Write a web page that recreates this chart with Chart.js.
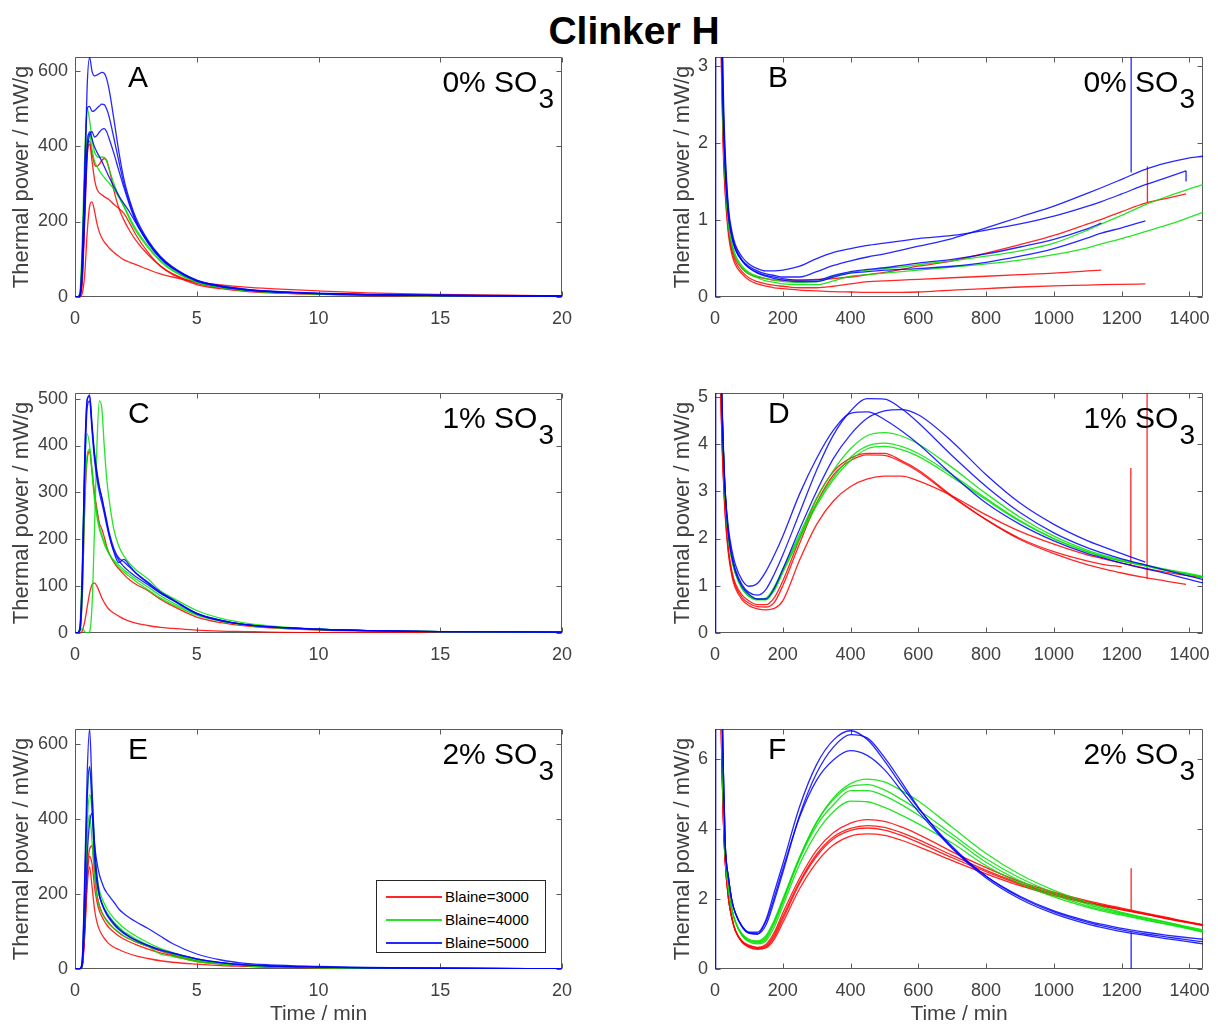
<!DOCTYPE html>
<html>
<head>
<meta charset="utf-8">
<script src="https://cdn.jsdelivr.net/npm/chart.js@4.4.1/dist/chart.umd.min.js"></script>
<style>
  body { margin: 0; width: 1218px; height: 1025px; overflow: hidden; background: #fff; position: relative;
         font-family: "Liberation Sans", Arial, sans-serif; }
  canvas { position: absolute; }
  .title { position: absolute; left: 434px; width: 400px; top: 11px; text-align: center;
           font-weight: bold; font-size: 39px; line-height: 39px; color: #000; }
  .letter { position: absolute; font-size: 30px; line-height: 30px; color: #000; }
  .so3 { position: absolute; font-size: 30px; line-height: 30px; color: #000; text-align: right; white-space: nowrap; }
  .so3 span { position: relative; top: 16px; font-size: 28px; margin-left: 1px; }
  .legend { position: absolute; left: 376px; top: 880px; width: 168px; height: 71px; border: 1px solid #262626;
            background: #fff; font-size: 15px; color: #000; }
  .legend .row { position: absolute; left: 0; height: 23px; width: 168px; }
  .legend .sample { position: absolute; left: 9px; width: 56px; top: 11px; height: 1.5px; }
  .legend .label { position: absolute; left: 68px; top: 3px; line-height: 17px; }
</style>
</head>
<body>
<div class="title">Clinker H</div>
<div class="legend" id="legend"></div>
<script>
// time axes (min)
const timeShort = [0, 0.1, 0.2, 0.3, 0.4, 0.5, 0.6, 0.7, 0.8, 0.9, 1.0, 1.1, 1.2, 1.3, 1.4, 1.6, 1.8, 2.0, 2.25, 2.5, 3, 3.5, 4, 5, 6, 7, 8, 10, 12, 15, 20];
const timeLong = [2, 5, 10, 15, 20, 25, 30, 40, 50, 60, 80, 100, 125, 150, 175, 200, 250, 300, 350, 400, 450, 500, 550, 600, 700, 800, 900, 1000, 1100, 1140, 1200, 1270, 1330, 1390, 1440];

const ticksShort = [0, 5, 10, 15, 20];
const ticksLong = [0, 200, 400, 600, 800, 1000, 1200, 1400];

// A: 0% SO3, first 20 min (mW/g)
const a_red1 = [0, 0, 2, 50, 230, 400, 413, 380, 352, 346, 352, 362, 367, 362, 340, 282, 236, 205, 175, 150, 112, 83, 62, 36, 24, 17, 12, 8, 5, 3, 2];
const a_red2 = [0, 0, 2, 40, 200, 370, 405, 360, 312, 286, 276, 271, 266, 262, 258, 245, 235, 222, 195, 165, 118, 82, 60, 33, 22, 15, 11, 7, 4, 3, 2];
const a_red3 = [0, 0, 0, 10, 60, 170, 240, 252, 228, 195, 172, 157, 146, 138, 130, 118, 108, 99, 92, 86, 73, 61, 53, 40, 32, 26, 22, 16, 11, 7, 3];
const a_green1 = [0, 0, 10, 150, 380, 500, 468, 418, 385, 373, 370, 371, 370, 360, 340, 300, 268, 243, 210, 180, 135, 98, 72, 40, 25, 18, 13, 8, 5, 3, 2];
const a_green2 = [0, 0, 8, 120, 330, 420, 432, 390, 360, 346, 335, 325, 317, 309, 302, 285, 264, 240, 205, 175, 130, 95, 70, 39, 25, 17, 12, 8, 5, 3, 2];
const a_blue1 = [0, 0, 5, 110, 330, 560, 635, 598, 586, 588, 592, 595, 593, 578, 550, 470, 385, 315, 255, 210, 150, 108, 80, 45, 30, 21, 16, 10, 7, 5, 3];
const a_blue2 = [0, 0, 5, 100, 320, 500, 505, 492, 494, 500, 506, 511, 510, 498, 478, 420, 360, 302, 248, 203, 147, 106, 79, 44, 29, 20, 15, 9, 6, 4, 2];
const a_blue3 = [0, 0, 3, 60, 220, 380, 430, 438, 424, 428, 437, 444, 446, 438, 420, 380, 335, 292, 242, 200, 145, 104, 77, 43, 28, 19, 14, 9, 6, 4, 2];
const a_blue4 = [0, 0, 3, 70, 240, 400, 438, 418, 398, 384, 372, 360, 346, 332, 318, 292, 268, 248, 224, 196, 143, 103, 76, 42, 27, 19, 14, 9, 6, 4, 2];

// C: 1% SO3, first 20 min
const c_red1 = [0, 0, 5, 80, 270, 370, 387, 345, 300, 265, 235, 222, 205, 185, 170, 150, 137, 125, 113, 104, 90, 72, 58, 34, 22, 15, 11, 6, 4, 2, 1];
const c_red2 = [0, 0, 0, 5, 25, 55, 85, 103, 107, 100, 88, 75, 65, 57, 50, 42, 36, 30, 25, 21, 16, 12, 10, 6, 4, 3, 2, 1, 1, 0.5, 0.3];
const c_green1 = [0, 0, 5, 10, 3, 0, 3, 60, 220, 400, 495, 480, 400, 330, 285, 220, 185, 165, 148, 135, 115, 90, 75, 48, 31, 21, 15, 8, 5, 3, 2];
const c_green2 = [0, 0, 15, 150, 350, 425, 400, 340, 285, 248, 222, 205, 190, 178, 168, 155, 145, 135, 125, 115, 98, 80, 65, 40, 26, 18, 13, 8, 5, 3, 2];
const c_green3 = [0, 0, 5, 80, 280, 380, 392, 350, 295, 255, 228, 210, 195, 182, 170, 152, 140, 130, 120, 110, 92, 75, 61, 38, 25, 17, 12, 7, 5, 3, 2];
const c_blue1 = [0, 0, 10, 130, 380, 500, 505, 440, 380, 340, 310, 290, 265, 240, 215, 180, 160, 152, 140, 128, 108, 88, 72, 42, 27, 18, 13, 8, 5, 3, 2];
const c_blue2 = [0, 0, 8, 120, 370, 495, 508, 445, 385, 345, 312, 288, 262, 236, 210, 172, 150, 157, 143, 128, 106, 86, 71, 42, 27, 18, 13, 8, 5, 3, 2];
const c_blue3 = [0, 0, 5, 100, 340, 480, 495, 430, 370, 330, 300, 278, 255, 230, 208, 175, 155, 142, 130, 120, 103, 85, 70, 41, 26, 18, 13, 8, 5, 3, 2];

// E: 2% SO3, first 20 min
const e_red1 = [0, 0, 0, 10, 110, 260, 320, 328, 260, 200, 170, 152, 140, 130, 122, 108, 97, 88, 80, 72, 60, 48, 38, 22, 14, 9, 6, 4, 2, 1, 1];
const e_red2 = [0, 0, 0, 10, 100, 240, 300, 280, 220, 180, 155, 140, 128, 118, 110, 98, 88, 80, 72, 65, 53, 43, 35, 20, 13, 8, 6, 3, 2, 1, 1];
const e_red3 = [0, 0, 0, 8, 90, 220, 272, 220, 160, 125, 105, 92, 82, 74, 67, 58, 52, 46, 40, 35, 28, 22, 18, 13, 9, 7, 5, 4, 2, 1, 1];
const e_green1 = [0, 0, 0, 20, 200, 440, 535, 470, 330, 250, 210, 190, 175, 162, 152, 135, 122, 110, 98, 88, 70, 55, 44, 25, 16, 10, 7, 4, 3, 2, 1];
const e_green2 = [0, 0, 0, 15, 160, 350, 410, 340, 250, 195, 165, 150, 138, 128, 120, 108, 98, 88, 80, 72, 60, 40, 34, 20, 13, 9, 6, 4, 2, 1, 1];
const e_green3 = [0, 0, 0, 15, 170, 380, 465, 420, 300, 230, 195, 178, 163, 152, 142, 125, 112, 100, 90, 80, 64, 50, 40, 24, 15, 10, 7, 4, 3, 2, 1];
const e_blue1 = [0, 0, 0, 30, 250, 520, 640, 480, 340, 285, 252, 232, 215, 204, 195, 178, 160, 148, 136, 126, 108, 88, 68, 40, 24, 15, 11, 7, 4, 2, 1];
const e_blue2 = [0, 0, 0, 25, 220, 460, 540, 430, 300, 230, 195, 175, 160, 148, 138, 122, 108, 97, 86, 77, 62, 50, 42, 27, 17, 11, 8, 5, 3, 2, 1];
const e_blue3 = [0, 0, 0, 10, 120, 300, 390, 415, 330, 250, 200, 175, 158, 145, 135, 118, 105, 95, 85, 76, 63, 52, 43, 27, 17, 11, 8, 5, 3, 2, 1];

// B: 0% SO3, full run (null = run ended)
const b_red1 = [30, 15, 7, 4.5, 3.0, 2.0, 1.5, 0.9, 0.65, 0.5, 0.37, 0.3, 0.26, 0.24, 0.22, 0.22, 0.22, 0.23, 0.24, 0.26, 0.29, 0.32, 0.36, 0.4, 0.47, 0.57, 0.68, 0.8, 0.95, 1.01, 1.11, 1.22, 1.28, 1.34, null];
const b_red2 = [28, 14, 6.5, 4.2, 2.8, 1.9, 1.4, 0.85, 0.6, 0.46, 0.33, 0.25, 0.2, 0.17, 0.15, 0.14, 0.12, 0.12, 0.14, 0.17, 0.2, 0.21, 0.22, 0.23, 0.25, 0.27, 0.29, 0.31, 0.34, 0.35, null, null, null, null, null];
const b_red3 = [25, 13, 6, 4, 2.7, 1.8, 1.35, 0.8, 0.55, 0.42, 0.3, 0.22, 0.17, 0.14, 0.12, 0.11, 0.09, 0.08, 0.07, 0.065, 0.06, 0.06, 0.06, 0.065, 0.09, 0.11, 0.13, 0.145, 0.155, 0.16, 0.165, 0.17, null, null, null];
const b_green1 = [32, 16, 7.5, 4.8, 3.1, 2.1, 1.6, 0.95, 0.7, 0.55, 0.4, 0.32, 0.27, 0.24, 0.22, 0.2, 0.19, 0.2, 0.27, 0.32, 0.35, 0.37, 0.39, 0.42, 0.47, 0.53, 0.6, 0.7, 0.87, 0.95, 1.06, 1.2, 1.3, 1.39, 1.46];
const b_green2 = [32, 16, 7.5, 4.8, 3.1, 2.1, 1.55, 0.92, 0.67, 0.52, 0.38, 0.3, 0.25, 0.21, 0.19, 0.17, 0.16, 0.16, 0.21, 0.27, 0.29, 0.31, 0.33, 0.35, 0.39, 0.43, 0.48, 0.55, 0.64, 0.69, 0.76, 0.85, 0.93, 1.02, 1.1];
const b_blue1 = [40, 20, 9, 5.5, 3.5, 2.4, 1.8, 1.1, 0.8, 0.65, 0.48, 0.4, 0.34, 0.3, 0.28, 0.26, 0.26, 0.33, 0.41, 0.47, 0.52, 0.56, 0.61, 0.66, 0.76, 0.9, 1.04, 1.18, 1.35, 1.42, 1.53, 1.66, 1.74, 1.8, 1.83];
const b_blue2 = [0, 30, 10, 6, 3.8, 2.6, 1.9, 1.15, 0.85, 0.68, 0.52, 0.43, 0.37, 0.34, 0.34, 0.35, 0.4, 0.5, 0.58, 0.63, 0.67, 0.7, 0.73, 0.76, 0.8, 0.87, 0.95, 1.05, 1.18, 1.24, 1.34, 1.46, 1.55, 1.64, null];
const b_blue3 = [35, 18, 8.5, 5.2, 3.3, 2.3, 1.7, 1.05, 0.78, 0.62, 0.47, 0.38, 0.31, 0.27, 0.24, 0.22, 0.2, 0.2, 0.26, 0.31, 0.33, 0.35, 0.36, 0.37, 0.4, 0.45, 0.53, 0.63, 0.77, 0.83, 0.9, 0.99, null, null, null];
const b_blue4 = [35, 18, 8.5, 5.2, 3.3, 2.3, 1.7, 1.05, 0.78, 0.62, 0.47, 0.38, 0.32, 0.28, 0.26, 0.24, 0.22, 0.22, 0.28, 0.33, 0.36, 0.38, 0.41, 0.44, 0.49, 0.56, 0.65, 0.75, 0.89, 0.96, null, null, null, null, null];

// D: 1% SO3, full run
const d_red1 = [50, 25, 10, 6, 4.3, 3.3, 2.6, 1.75, 1.3, 1.05, 0.8, 0.68, 0.6, 0.6, 0.75, 1.1, 2.0, 2.85, 3.42, 3.7, 3.8, 3.8, 3.65, 3.45, 2.9, 2.4, 1.98, 1.68, 1.44, 1.37, 1.27, 1.17, 1.1, 1.03, null];
const d_red2 = [50, 25, 10, 6, 4.2, 3.2, 2.5, 1.65, 1.2, 0.95, 0.7, 0.58, 0.51, 0.49, 0.52, 0.68, 1.55, 2.3, 2.8, 3.1, 3.26, 3.32, 3.32, 3.22, 2.9, 2.5, 2.15, 1.88, 1.65, 1.58, 1.48, 1.37, 1.29, 1.22, 1.17];
const d_red3 = [50, 25, 10, 6, 4.3, 3.3, 2.55, 1.7, 1.25, 1.0, 0.75, 0.63, 0.56, 0.55, 0.65, 1.0, 1.9, 2.75, 3.35, 3.65, 3.77, 3.76, 3.62, 3.42, 2.88, 2.4, 2.0, 1.72, 1.52, 1.46, 1.4, null, null, null, null];
const d_green1 = [60, 30, 12, 7, 5, 3.8, 2.9, 2.0, 1.55, 1.27, 0.95, 0.8, 0.72, 0.74, 0.98, 1.35, 2.1, 2.85, 3.45, 3.9, 4.18, 4.24, 4.17, 4.0, 3.5, 2.95, 2.45, 2.05, 1.75, 1.66, 1.55, 1.44, 1.35, 1.27, 1.2];
const d_green2 = [60, 30, 12, 7, 5, 3.8, 2.9, 2.0, 1.55, 1.27, 0.94, 0.78, 0.7, 0.7, 0.93, 1.3, 2.05, 2.75, 3.3, 3.72, 3.96, 4.02, 3.95, 3.8, 3.35, 2.85, 2.38, 2.0, 1.72, 1.63, 1.52, 1.42, 1.33, 1.25, 1.18];
const d_green3 = [60, 30, 12, 7, 5, 3.8, 2.9, 2.0, 1.55, 1.27, 0.94, 0.78, 0.71, 0.72, 0.9, 1.28, 2.0, 2.7, 3.25, 3.65, 3.9, 3.95, 3.88, 3.74, 3.3, 2.82, 2.36, 1.99, 1.71, 1.63, 1.52, 1.42, 1.33, 1.25, 1.18];
const d_blue1 = [60, 30, 12, 7, 5, 3.8, 3.0, 2.2, 1.75, 1.45, 1.12, 0.99, 1.05, 1.3, 1.65, 2.05, 2.95, 3.7, 4.3, 4.65, 4.68, 4.52, 4.28, 4.0, 3.35, 2.75, 2.3, 1.95, 1.68, 1.6, 1.48, 1.36, 1.26, 1.15, 1.06];
const d_blue2 = [60, 30, 12, 7, 5, 3.8, 3.0, 2.1, 1.65, 1.35, 1.02, 0.86, 0.8, 0.92, 1.25, 1.65, 2.55, 3.45, 4.2, 4.7, 4.96, 4.95, 4.75, 4.45, 3.75, 3.1, 2.55, 2.12, 1.8, 1.7, 1.57, 1.44, 1.33, 1.22, 1.13];
const d_blue3 = [0, 60, 14, 7.5, 5.2, 3.9, 3.0, 2.05, 1.6, 1.3, 0.98, 0.82, 0.72, 0.72, 0.95, 1.35, 2.2, 3.0, 3.7, 4.2, 4.55, 4.7, 4.73, 4.62, 4.05, 3.35, 2.75, 2.3, 1.95, 1.84, 1.68, 1.5, null, null, null];

// F: 2% SO3, full run
const f_red1 = [50, 30, 14, 9, 6, 4.2, 3.1, 2.0, 1.45, 1.1, 0.8, 0.68, 0.62, 0.7, 1.05, 1.6, 2.6, 3.4, 3.9, 4.17, 4.27, 4.22, 4.06, 3.85, 3.35, 2.9, 2.5, 2.2, 1.95, 1.86, 1.74, 1.6, 1.48, 1.36, 1.27];
const f_red2 = [50, 30, 14, 9, 6, 4.2, 3.1, 2.0, 1.45, 1.1, 0.78, 0.66, 0.6, 0.66, 0.98, 1.5, 2.5, 3.28, 3.78, 4.02, 4.1, 4.05, 3.9, 3.7, 3.25, 2.82, 2.45, 2.16, 1.92, 1.83, 1.71, 1.58, 1.46, 1.35, 1.26];
const f_red3 = [50, 30, 14, 9, 6, 4.2, 3.1, 2.0, 1.45, 1.1, 0.77, 0.64, 0.58, 0.63, 0.92, 1.42, 2.45, 3.22, 3.72, 3.96, 4.03, 3.97, 3.82, 3.62, 3.18, 2.78, 2.42, 2.13, 1.9, 1.81, 1.7, 1.57, 1.45, 1.34, 1.25];
const f_red4 = [50, 30, 14, 9, 6, 4.2, 3.1, 2.0, 1.45, 1.1, 0.76, 0.62, 0.56, 0.6, 0.85, 1.32, 2.3, 3.05, 3.55, 3.8, 3.86, 3.82, 3.68, 3.5, 3.1, 2.72, 2.38, 2.1, 1.88, 1.8, 1.69, 1.56, 1.44, 1.33, 1.24];
const f_green1 = [60, 35, 16, 10, 7, 4.8, 3.4, 2.3, 1.7, 1.35, 1.0, 0.85, 0.8, 0.95, 1.4, 2.0, 3.2, 4.2, 4.9, 5.3, 5.43, 5.35, 5.1, 4.8, 4.05, 3.3, 2.7, 2.25, 1.9, 1.78, 1.62, 1.47, 1.35, 1.22, 1.12];
const f_green2 = [60, 35, 16, 10, 7, 4.8, 3.4, 2.3, 1.7, 1.35, 0.98, 0.82, 0.78, 0.9, 1.35, 1.95, 3.2, 4.2, 4.85, 5.22, 5.27, 5.12, 4.85, 4.55, 3.85, 3.15, 2.6, 2.18, 1.85, 1.74, 1.6, 1.45, 1.33, 1.2, 1.1];
const f_green3 = [60, 35, 16, 10, 7, 4.8, 3.4, 2.3, 1.7, 1.35, 0.96, 0.8, 0.75, 0.85, 1.3, 1.9, 3.15, 4.1, 4.7, 5.1, 5.1, 4.95, 4.7, 4.4, 3.75, 3.05, 2.52, 2.12, 1.8, 1.7, 1.57, 1.42, 1.3, 1.18, 1.07];
const f_green4 = [60, 35, 16, 10, 7, 4.8, 3.4, 2.3, 1.7, 1.35, 0.95, 0.78, 0.72, 0.8, 1.2, 1.8, 3.0, 3.9, 4.5, 4.8, 4.78, 4.62, 4.4, 4.15, 3.6, 2.95, 2.45, 2.06, 1.76, 1.66, 1.54, 1.4, 1.28, 1.16, 1.05];
const f_blue1 = [0, 80, 20, 12, 8, 5.5, 3.6, 2.6, 1.95, 1.6, 1.22, 1.05, 1.05, 1.4, 2.2, 3.0, 4.65, 5.85, 6.55, 6.81, 6.55, 5.95, 5.25, 4.6, 3.5, 2.65, 2.05, 1.63, 1.33, 1.24, 1.12, 1.0, 0.92, 0.84, 0.78];
const f_blue2 = [80, 40, 20, 12, 8, 5.5, 3.6, 2.6, 1.95, 1.6, 1.2, 1.02, 1.0, 1.25, 1.95, 2.75, 4.4, 5.6, 6.35, 6.7, 6.6, 6.05, 5.35, 4.62, 3.45, 2.6, 2.0, 1.58, 1.28, 1.19, 1.07, 0.96, 0.87, 0.79, 0.72];
const f_blue3 = [80, 40, 20, 12, 8, 5.5, 3.6, 2.6, 1.95, 1.6, 1.22, 1.04, 1.0, 1.35, 2.05, 2.85, 4.35, 5.4, 5.98, 6.24, 6.1, 5.7, 5.1, 4.5, 3.45, 2.65, 2.08, 1.66, 1.37, 1.28, 1.16, 1.05, 0.97, 0.9, 0.85];

// instrument glitches: [time, from, to]
const b_spikesRed = [[1276, 1.23, 1.7]];
const b_spikesBlue = [[1228, 1.62, 3.3], [1390, 1.64, 1.5]];
const d_spikesRed = [[1227, 1.42, 3.49], [1275, 1.15, 5.3]];
const f_spikesRed = [[1228, 1.68, 2.88]];
const f_spikesBlue = [[1228, 1.05, 0]];

const legendLabels = ['Blaine=3000', 'Blaine=4000', 'Blaine=5000'];

const FONT = '"Liberation Sans", Arial, sans-serif';
const COLORS = { red: 'rgba(255,0,0,0.85)', green: 'rgba(0,225,0,0.85)', blue: 'rgba(0,0,255,0.85)' };
const ORDER = { red: 2, green: 1, blue: 0 };
const LABEL_GREY = '#404040';

const panels = [
  { letter: 'A', so3: '0% SO', col: 0, row: 0, time: timeShort, xMax: 20, xTicks: ticksShort, yMax: 636, yTicks: [0, 200, 400, 600],
    red: [a_red1, a_red2, a_red3], green: [a_green1, a_green2], blue: [a_blue1, a_blue2, a_blue3, a_blue4] },
  { letter: 'B', so3: '0% SO', col: 1, row: 0, time: timeLong, xMax: 1440, xTicks: ticksLong, yMax: 3.12, yTicks: [0, 1, 2, 3],
    red: [b_red1, b_red2, b_red3], green: [b_green1, b_green2], blue: [b_blue1, b_blue2, b_blue3, b_blue4],
    spikes: { red: b_spikesRed, blue: b_spikesBlue } },
  { letter: 'C', so3: '1% SO', col: 0, row: 1, time: timeShort, xMax: 20, xTicks: ticksShort, yMax: 512, yTicks: [0, 100, 200, 300, 400, 500],
    red: [c_red1, c_red2], green: [c_green1, c_green2, c_green3], blue: [c_blue1, c_blue2, c_blue3] },
  { letter: 'D', so3: '1% SO', col: 1, row: 1, time: timeLong, xMax: 1440, xTicks: ticksLong, yMax: 5.08, yTicks: [0, 1, 2, 3, 4, 5],
    red: [d_red1, d_red2, d_red3], green: [d_green1, d_green2, d_green3], blue: [d_blue1, d_blue2, d_blue3],
    spikes: { red: d_spikesRed } },
  { letter: 'E', so3: '2% SO', col: 0, row: 2, time: timeShort, xMax: 20, xTicks: ticksShort, yMax: 640, yTicks: [0, 200, 400, 600],
    red: [e_red1, e_red2, e_red3], green: [e_green1, e_green2, e_green3], blue: [e_blue1, e_blue2, e_blue3] },
  { letter: 'F', so3: '2% SO', col: 1, row: 2, time: timeLong, xMax: 1440, xTicks: ticksLong, yMax: 6.86, yTicks: [0, 2, 4, 6],
    red: [f_red1, f_red2, f_red3, f_red4], green: [f_green1, f_green2, f_green3, f_green4], blue: [f_blue1, f_blue2, f_blue3],
    spikes: { red: f_spikesRed, blue: f_spikesBlue } }
];

// page geometry of the plot boxes
const colLeft = [75, 715];
const colWidth = [487, 488];
const rowTop = [57, 393, 729];
const plotHeight = 240;
const padLeft = 75, padTop = 24, padRight = 24, padBottom = 56;

function curve(times, values, color) {
  const pts = [];
  values.forEach((v, i) => { if (v !== null) pts.push({ x: times[i], y: v }); });
  return { data: pts, borderColor: COLORS[color], borderWidth: 1.3, pointRadius: 0, fill: false,
           cubicInterpolationMode: 'monotone', order: ORDER[color] };
}

function spike(s, color) {
  return { data: [{ x: s[0], y: s[1] }, { x: s[0], y: s[2] }], borderColor: COLORS[color], borderWidth: 1.3,
           pointRadius: 0, tension: 0, order: ORDER[color] };
}

// box with inward ticks on all four sides
const boxPlugin = {
  id: 'axesBox',
  beforeDatasetsDraw(chart) {
    const { ctx, chartArea: a, scales: { x, y } } = chart;
    const L = Math.round(a.left) + 0.5, R = Math.round(a.right) - 0.5;
    const T = Math.round(a.top) + 0.5, B = Math.round(a.bottom) - 0.5;
    ctx.save();
    ctx.strokeStyle = '#5a5a5a';
    ctx.lineWidth = 1;
    ctx.beginPath();
    ctx.rect(L, T, R - L, B - T);
    x.ticks.forEach(t => {
      const px = Math.round(x.getPixelForValue(t.value)) + 0.5;
      ctx.moveTo(px, B); ctx.lineTo(px, B - 5);
      ctx.moveTo(px, T); ctx.lineTo(px, T + 5);
    });
    y.ticks.forEach(t => {
      const py = Math.round(y.getPixelForValue(t.value)) + 0.5;
      ctx.moveTo(L, py); ctx.lineTo(L + 5, py);
      ctx.moveTo(R, py); ctx.lineTo(R - 5, py);
    });
    ctx.stroke();
    ctx.restore();
  }
};

panels.forEach(p => {
  const left = colLeft[p.col], top = rowTop[p.row], w = colWidth[p.col];
  const canvas = document.createElement('canvas');
  canvas.width = padLeft + w + padRight;
  canvas.height = padTop + plotHeight + padBottom;
  canvas.style.left = (left - padLeft) + 'px';
  canvas.style.top = (top - padTop) + 'px';
  document.body.appendChild(canvas);

  const datasets = [];
  ['red', 'green', 'blue'].forEach(c => {
    p[c].forEach(vals => datasets.push(curve(p.time, vals, c)));
    if (p.spikes && p.spikes[c]) p.spikes[c].forEach(s => datasets.push(spike(s, c)));
  });

  new Chart(canvas, {
    type: 'line',
    data: { datasets },
    options: {
      responsive: false,
      animation: false,
      devicePixelRatio: 1,
      layout: { padding: { left: 0, top: padTop, right: padRight, bottom: 0 } },
      plugins: { legend: { display: false }, tooltip: { enabled: false } },
      scales: {
        x: {
          type: 'linear', min: 0, max: p.xMax,
          grid: { display: false, drawTicks: false }, border: { display: false },
          ticks: { font: { family: FONT, size: 18 }, color: LABEL_GREY, padding: 11, maxRotation: 0, autoSkip: false,
                   callback: v => String(v) },
          afterBuildTicks: ax => { ax.ticks = p.xTicks.map(v => ({ value: v })); },
          afterFit: ax => { ax.height = padBottom; },
          title: { display: p.row === 2, text: 'Time / min', color: LABEL_GREY,
                   font: { family: FONT, size: 21, lineHeight: 1 }, padding: { top: 0, bottom: 0 } }
        },
        y: {
          type: 'linear', min: 0, max: p.yMax,
          grid: { display: false, drawTicks: false }, border: { display: false },
          ticks: { font: { family: FONT, size: 18 }, color: LABEL_GREY, padding: 7, autoSkip: false,
                   callback: v => String(v) },
          afterBuildTicks: ax => { ax.ticks = p.yTicks.map(v => ({ value: v })); },
          afterFit: ax => { ax.width = padLeft; },
          title: { display: true, text: 'Thermal power / mW/g', color: LABEL_GREY,
                   font: { family: FONT, size: 22, lineHeight: 1 }, padding: { top: p.col === 0 ? 11 : 32, bottom: 0 } }
        }
      }
    },
    plugins: [boxPlugin]
  });

  // panel letter and sulfate level
  const letter = document.createElement('div');
  letter.className = 'letter';
  letter.textContent = p.letter;
  letter.style.left = (left + 53) + 'px';
  letter.style.top = (top + 5) + 'px';
  document.body.appendChild(letter);

  const so3 = document.createElement('div');
  so3.className = 'so3';
  so3.innerHTML = p.so3 + '<span>3</span>';
  so3.style.right = (1218 - (left + w - 8)) + 'px';
  so3.style.top = (top + 10) + 'px';
  document.body.appendChild(so3);
});

// legend (panel E)
const legend = document.getElementById('legend');
['red', 'green', 'blue'].forEach((c, i) => {
  const row = document.createElement('div');
  row.className = 'row';
  row.style.top = (4 + i * 23) + 'px';
  row.innerHTML = '<div class="sample" style="background:' + COLORS[c] + '"></div><div class="label">' + legendLabels[i] + '</div>';
  legend.appendChild(row);
});
</script>
</body>
</html>
